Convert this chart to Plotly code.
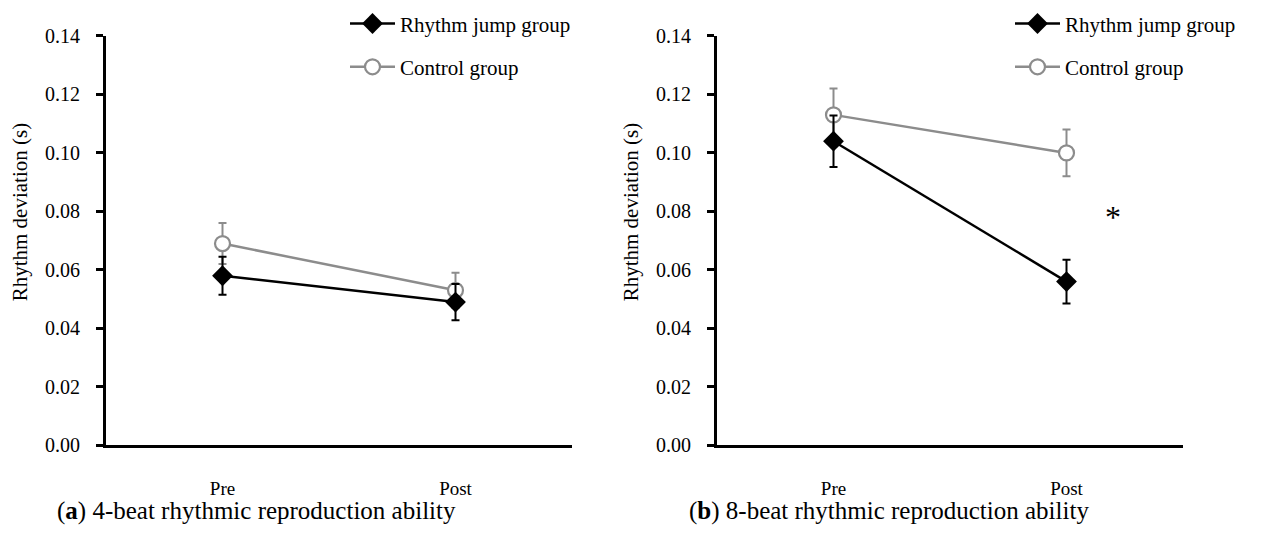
import plotly.graph_objects as go

phases = ["Pre", "Post"]
xpos = [0, 1]

# Panel a: 4-beat
a_jump = [0.058, 0.049]
a_jump_err = [0.0065, 0.0062]
a_ctrl = [0.069, 0.053]
a_ctrl_err = [0.007, 0.006]

# Panel b: 8-beat
b_jump = [0.104, 0.056]
b_jump_err = [0.0088, 0.0075]
b_ctrl = [0.113, 0.100]
b_ctrl_err = [0.009, 0.008]

yticks = [0.00, 0.02, 0.04, 0.06, 0.08, 0.10, 0.12, 0.14]
ytick_text = ["0.00", "0.02", "0.04", "0.06", "0.08", "0.10", "0.12", "0.14"]

FONT = "Liberation Serif"
GREY = "#8c8c8c"
W, H = 1271, 534

fig = go.Figure()

def add_panel(xa, ya, jump, jerr, ctrl, cerr, legname):
    fig.add_trace(go.Scatter(
        x=xpos, y=ctrl, mode="lines+markers", name="Control group",
        xaxis=xa, yaxis=ya, legend=legname, legendgroup="c" + legname, legendrank=2,
        line=dict(color=GREY, width=2.5),
        marker=dict(symbol="circle", size=15, color="white", line=dict(color=GREY, width=2.2)),
        error_y=dict(type="data", array=cerr, color=GREY, thickness=2, width=4),
    ))
    fig.add_trace(go.Scatter(
        x=xpos, y=jump, mode="lines+markers", name="Rhythm jump group",
        xaxis=xa, yaxis=ya, legend=legname, legendgroup="j" + legname, legendrank=1,
        line=dict(color="black", width=2.5),
        marker=dict(symbol="diamond", size=16, color="black"),
        error_y=dict(type="data", array=jerr, color="black", thickness=2, width=4),
    ))

add_panel("x", "y", a_jump, a_jump_err, a_ctrl, a_ctrl_err, "legend")
add_panel("x2", "y2", b_jump, b_jump_err, b_ctrl, b_ctrl_err, "legend2")

ydom = [(H - 453) / H, (H - 26) / H]
axis_common_y = dict(
    range=[0, 0.14], tickvals=yticks, ticktext=ytick_text, showline=True,
    linecolor="black", linewidth=3, ticks="outside", ticklen=7, tickwidth=2.5,
    tickcolor="black", showgrid=False, zeroline=False,
    tickfont=dict(family=FONT, size=20, color="black"), ticklabelstandoff=12,
)
axis_common_x = dict(
    range=[-0.5, 1.5], tickvals=xpos, ticktext=phases, showline=True,
    linecolor="black", linewidth=3, ticks="", showgrid=False, zeroline=False,
    tickfont=dict(family=FONT, size=19, color="black"), ticklabelstandoff=24,
)

leg_common = dict(xanchor="left", yanchor="top",
                  font=dict(family=FONT, size=21, color="black"),
                  tracegroupgap=13, itemwidth=45, bgcolor="rgba(0,0,0,0)")

fig.update_layout(
    width=W, height=H, margin=dict(l=0, r=0, t=0, b=0),
    paper_bgcolor="white", plot_bgcolor="white",
    xaxis=dict(domain=[106 / W, 572 / W], anchor="y", **axis_common_x),
    yaxis=dict(domain=ydom, anchor="x", **axis_common_y),
    xaxis2=dict(domain=[717 / W, 1183 / W], anchor="y2", **axis_common_x),
    yaxis2=dict(domain=ydom, anchor="x2", **axis_common_y),
    legend=dict(x=345 / W, y=1 + 8 / H, **leg_common),
    legend2=dict(x=1010 / W, y=1 + 8 / H, **leg_common),
    showlegend=True,
)

annots = [
    dict(text="Rhythm deviation (s)", x=20 / W, y=1 - 210 / H, xref="paper", yref="paper",
         xanchor="center", yanchor="middle",
         textangle=-90, showarrow=False, font=dict(family=FONT, size=21, color="black")),
    dict(text="Rhythm deviation (s)", x=631 / W, y=1 - 210 / H, xref="paper", yref="paper",
         xanchor="center", yanchor="middle",
         textangle=-90, showarrow=False, font=dict(family=FONT, size=21, color="black")),
    dict(text="(<b>a</b>) 4-beat rhythmic reproduction ability", x=256 / W, y=1 - 521 / H,
         xref="paper", yref="paper", xanchor="center", yanchor="middle", showarrow=False,
         font=dict(family=FONT, size=25, color="black")),
    dict(text="(<b>b</b>) 8-beat rhythmic reproduction ability", x=889 / W, y=1 - 521 / H,
         xref="paper", yref="paper", xanchor="center", yanchor="middle", showarrow=False,
         font=dict(family=FONT, size=25, color="black")),
    dict(text="*", x=1.2, y=0.078, xref="x2", yref="y2", showarrow=False,
         font=dict(family=FONT, size=32, color="black")),
]
fig.update_layout(annotations=annots)

fig.write_html("out.html")
